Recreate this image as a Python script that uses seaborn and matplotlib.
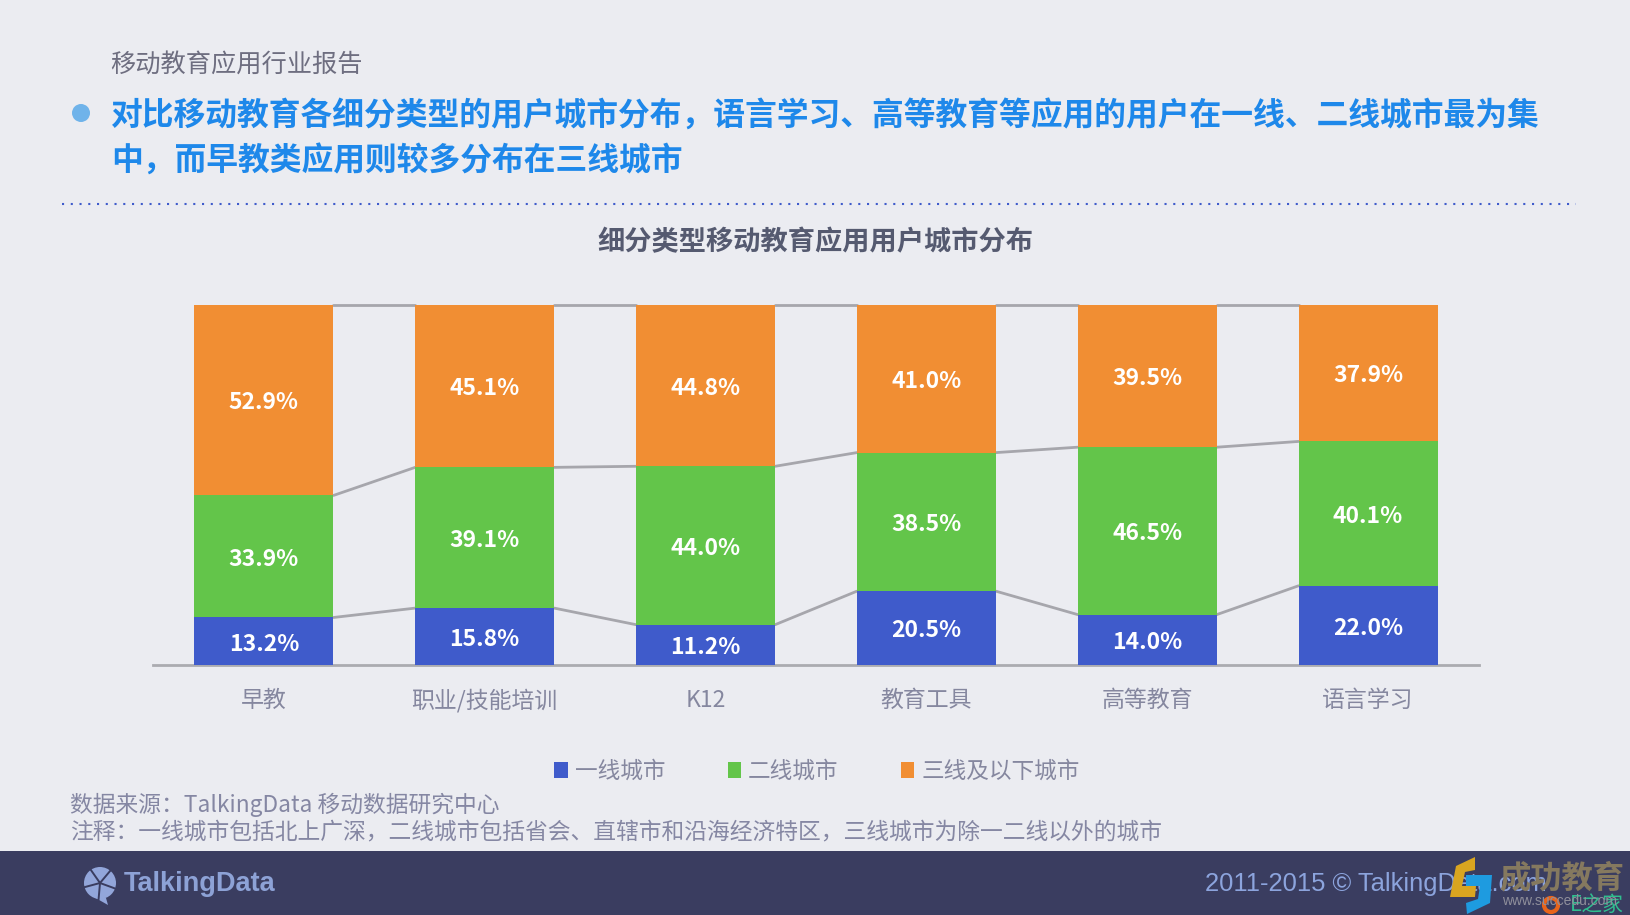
import numpy as np
import matplotlib
matplotlib.use('Agg')
import matplotlib.pyplot as plt
from matplotlib.patches import Circle, Polygon, Rectangle
import seaborn as sns

categories = ['早教', '职业/技能培训', 'K12', '教育工具', '高等教育', '语言学习']
tier1 = [13.2, 15.8, 11.2, 20.5, 14.0, 22.0]
tier2 = [33.9, 39.1, 44.0, 38.5, 46.5, 40.1]
tier3 = [52.9, 45.1, 44.8, 41.0, 39.5, 37.9]
series_names = ['一线城市', '二线城市', '三线及以下城市']
series_colors = ['#3F5BCB', '#63C54A', '#F18E33']

report_name = '移动教育应用行业报告'
headline = ['对比移动教育各细分类型的用户城市分布，语言学习、高等教育等应用的用户在一线、二线城市最为集',
            '中，而早教类应用则较多分布在三线城市']
chart_title = '细分类型移动教育应用用户城市分布'
source_note = '数据来源：TalkingData 移动数据研究中心'
tier_note = '注释：一线城市包括北上广深，二线城市包括省会、直辖市和沿海经济特区，三线城市为除一二线以外的城市'

BG = '#EBECF1'
CJK = ['Noto Sans CJK SC', 'DejaVu Sans']
LATIN = ['Liberation Sans', 'DejaVu Sans']

sns.set_theme(style='white')
plt.rcParams['font.family'] = CJK

W, H = 1630, 915
fig = plt.figure(figsize=(W / 100, H / 100), dpi=100, facecolor=BG)

# page furniture, in pixel coordinates
page = fig.add_axes([0, 0, 1, 1])
page.set_xlim(0, W)
page.set_ylim(H, 0)
page.axis('off')

page.add_patch(Rectangle((0, 851), W, 64, color='#3A3D60', lw=0))
page.add_patch(Circle((81, 113), 9, color='#6FB3EA', lw=0))
page.plot([62, 1576], [204, 204], color='#3F5BCB', lw=1.5, dashes=(1, 3.2))

page.text(110, 65, report_name, fontsize=18.2, color='#6E6E80', va='center')
page.text(111, 117, headline[0], fontsize=22.9, color='#1E88EA', weight='bold', va='center')
page.text(111, 162, headline[1], fontsize=22.9, color='#1E88EA', weight='bold', va='center')
page.text(815, 242, chart_title, fontsize=19.6, color='#555A70', weight='bold', ha='center', va='center')
page.text(70, 805, source_note, fontsize=16.4, color='#8587A3', va='center')
page.text(70, 832, tier_note, fontsize=16.4, color='#8587A3', va='center')

# footer logo
page.add_patch(Circle((100, 883), 16, color='#92A6DA', lw=0))
page.add_patch(Polygon([[92, 896], [106, 898], [108, 905]], color='#92A6DA', lw=0))
for a in [20, 95, 165, 235, 310]:
    t = np.deg2rad(a)
    page.plot([100, 100 + 17 * np.cos(t)], [883, 883 + 17 * np.sin(t)], color='#3A3D60', lw=1.4)
page.text(124, 884, 'TalkingData', family=LATIN, fontsize=19.5, weight='bold', color='#8DA2D6', va='center')
page.text(1205, 884, '2011-2015 © TalkingData.com', family=LATIN, fontsize=18.4, color='#8CA4DD', va='center')

# watermark
page.text(1499, 878, '成功教育', fontsize=22.5, color='#85795F', weight='bold', va='center', zorder=6)
page.text(1502, 901, 'www.succedu.com', family=LATIN, fontsize=10, color='#8F8F9B', va='center', zorder=6)
page.add_patch(Polygon([[1475, 857], [1456, 866], [1450, 897], [1475, 897], [1476, 886],
                        [1462, 886], [1465, 872], [1475, 870]], color='#D9A520', lw=0, zorder=5))
page.add_patch(Polygon([[1466, 875], [1492, 875], [1490, 903], [1467, 914], [1466, 903],
                        [1478, 899], [1480, 886], [1466, 886]], color='#1E9BE0', lw=0, zorder=5))
page.add_patch(Circle((1551, 905), 7, fill=False, ec='#E8641B', lw=3, zorder=5))
page.text(1570, 905, 'E之家', fontsize=15, color='#2FBF8F', va='center', zorder=5)

# chart
ax = fig.add_axes([153.5 / W, 1 - 665 / H, 1325 / W, 360 / H], facecolor='none')
bar_width = 0.63
bottom = np.zeros(len(categories))
for values, name, color in zip([tier1, tier2, tier3], series_names, series_colors):
    sns.barplot(x=categories, y=values, bottom=bottom, color=color, label=name,
                width=bar_width, saturation=1, linewidth=0, ax=ax, zorder=3)
    for i, v in enumerate(values):
        ax.annotate(f'{v:.1f}%', (i, bottom[i] + v / 2), xytext=(0, -2), textcoords='offset points',
                    color='white', fontsize=16.5, weight='bold', ha='center', va='center', zorder=4)
    bottom = bottom + np.array(values)
    # connector lines between neighbouring bars
    for i in range(len(categories) - 1):
        ax.plot([i + bar_width / 2, i + 1 - bar_width / 2], [bottom[i], bottom[i + 1]],
                color='#A6A6AC', lw=2, zorder=2, clip_on=False)

ax.set_xlim(-0.5, 5.5)
ax.set_ylim(0, 100)
ax.set_yticks([])
ax.set_xlabel('')
ax.set_ylabel('')
sns.despine(ax=ax, left=True)
ax.spines['bottom'].set_color('#ABABB0')
ax.spines['bottom'].set_linewidth(2)
ax.tick_params(axis='x', length=0, pad=17, labelsize=16.5, labelcolor='#85879F')

ax.legend(loc='center', bbox_to_anchor=(817 / W, 1 - 771 / H), bbox_transform=fig.transFigure,
          ncol=3, frameon=False, fontsize=16.3, labelcolor='#85879F', handlelength=0.6,
          handleheight=0.7, handletextpad=0.3, columnspacing=2.75)

fig.savefig('out.png', dpi=100, facecolor=BG)
